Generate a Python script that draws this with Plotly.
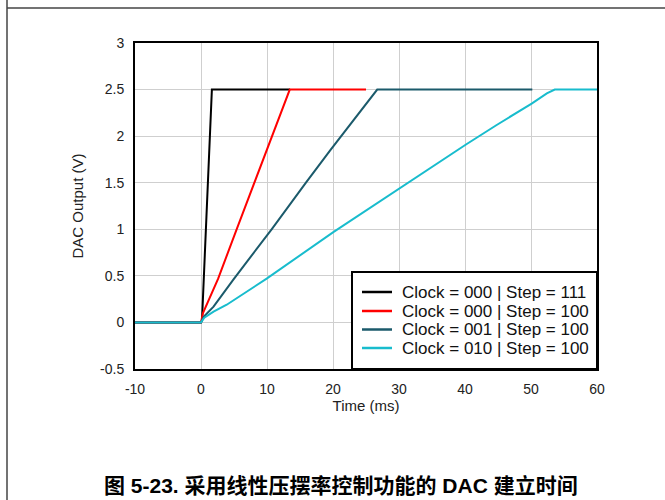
import plotly.graph_objects as go

# Settling waveforms (time in ms, output in V)
black_t = [-10, 0, 0.15, 1.65, 13.5]
black_v = [0, 0, 0.02, 2.5, 2.5]

red_t = [-10, 0, 0.3, 1.4, 2.6, 5.4, 10.0, 13.45, 25.0]
red_v = [0, 0, 0.1, 0.28, 0.47, 1.0, 1.85, 2.5, 2.5]

teal_t = [-10, 0, 0.4, 1.9, 4.9, 10.7, 15.9, 19.6, 26.7, 50.2]
teal_v = [0, 0, 0.06, 0.17, 0.46, 1.0, 1.5, 1.85, 2.5, 2.5]

cyan_t = [-10, 0, 0.5, 1.9, 3.9, 6.9, 9.95, 20.05, 27.1, 30.15,
          36.2, 40.15, 44.8, 50.1, 52.4, 53.6, 60]
cyan_v = [0, 0, 0.05, 0.115, 0.19, 0.33, 0.47, 0.97, 1.30, 1.44,
          1.73, 1.91, 2.12, 2.35, 2.46, 2.5, 2.5]

series_names = ["Clock = 000 | Step = 111", "Clock = 000 | Step = 100",
                "Clock = 001 | Step = 100", "Clock = 010 | Step = 100"]

x_ticks = [-10, 0, 10, 20, 30, 40, 50, 60]
x_ticktext = ["-10", "0", "10", "20", "30", "40", "50", "60"]
y_ticks = [-0.5, 0, 0.5, 1, 1.5, 2, 2.5, 3]
y_ticktext = ["-0.5", "0", "0.5", "1", "1.5", "2", "2.5", "3"]

caption = "图 5-23. 采用线性压摆率控制功能的 DAC 建立时间"

colors = ["#000000", "#ff0000", "#1b5a6b", "#18bccd"]
FONT = "Liberation Sans, Arial, sans-serif"

fig = go.Figure()
for t, v, name, c in zip([black_t, red_t, teal_t, cyan_t],
                         [black_v, red_v, teal_v, cyan_v],
                         series_names, colors):
    fig.add_trace(go.Scatter(x=t, y=v, mode="lines", name=name, showlegend=False,
                             line=dict(color=c, width=2)))

axis_common = dict(showgrid=True, gridcolor="#cfcfcf", gridwidth=1,
                   showline=True, linecolor="black", linewidth=2, mirror=True,
                   zeroline=False, ticks="", tickfont=dict(family=FONT, size=14, color="#222"))

fig.update_xaxes(range=[-10, 60], tickvals=x_ticks, ticktext=x_ticktext,
                 title=dict(text="Time (ms)", font=dict(family=FONT, size=15, color="#222"),
                            standoff=4),
                 ticklabelstandoff=6, **axis_common)
fig.update_yaxes(range=[-0.5, 3], tickvals=y_ticks, ticktext=y_ticktext,
                 title=dict(text="DAC Output (V)", font=dict(family=FONT, size=15, color="#222"),
                            standoff=13),
                 ticklabelstandoff=6, **axis_common)

L, R, T, B = 135, 68, 43, 131
W, H = 665, 500
pw, ph = W - L - R, H - T - B


def px_x(p):
    return (p - L) / pw


def px_y(p):
    return (H - B - p) / ph


shapes = [
    # page frame
    dict(type="line", xref="paper", yref="paper",
         x0=px_x(7), x1=px_x(7), y0=px_y(0), y1=px_y(500),
         line=dict(color="#444", width=1.5)),
    dict(type="line", xref="paper", yref="paper",
         x0=px_x(7), x1=px_x(665), y0=px_y(8), y1=px_y(8),
         line=dict(color="#444", width=1.5)),
    # legend box
    dict(type="rect", xref="paper", yref="paper",
         x0=px_x(352), x1=1, y0=0, y1=px_y(272),
         fillcolor="white", line=dict(color="black", width=2), layer="above"),
]
annotations = []
row_y = [292, 311, 329.5, 348]
for name, c, ry in zip(series_names, colors, row_y):
    shapes.append(dict(type="line", xref="paper", yref="paper",
                       x0=px_x(362), x1=px_x(392), y0=px_y(ry), y1=px_y(ry),
                       line=dict(color=c, width=2.5), layer="above"))
    annotations.append(dict(text=name, xref="paper", yref="paper",
                            x=px_x(400), y=px_y(ry), xanchor="left", yanchor="middle",
                            showarrow=False,
                            font=dict(family=FONT, size=17, color="#111")))

annotations.append(dict(text="<b>" + caption + "</b>", xref="paper", yref="paper",
                        x=px_x(341), y=px_y(485), xanchor="center", yanchor="middle",
                        showarrow=False,
                        font=dict(family="Liberation Sans, Noto Sans CJK SC, sans-serif",
                                  size=21, color="black")))

fig.update_layout(
    width=W, height=H,
    margin=dict(l=L, r=R, t=T, b=B),
    paper_bgcolor="white", plot_bgcolor="white",
    showlegend=False,
    shapes=shapes,
    annotations=annotations,
)

fig.write_html("out.html")
